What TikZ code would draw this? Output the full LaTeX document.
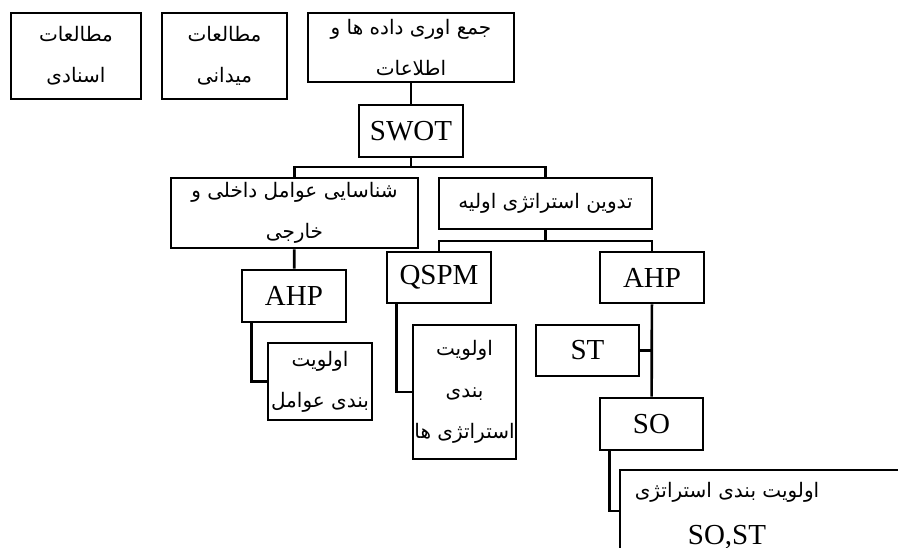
\documentclass[tikz,border=0pt]{standalone}
\usepackage{fontspec}
\setmainfont{Liberation Serif}
\newfontfamily\arabicfont[Script=Arabic]{DejaVu Sans}
\TeXXeTstate=1
\newcommand\fatext[1]{{\arabicfont\beginR#1\endR}}
\usetikzlibrary{calc}
\tikzset{box/.style={draw,line width=2pt,inner sep=0pt,align=center,
  font=\fontsize{15}{31}\selectfont},
tag/.style={box,minimum width=78pt,minimum height=39pt,font=\fontsize{21.75}{24}\selectfont},
link/.style={line width=2pt},
lab/.style={inner sep=0pt,font=\fontsize{15}{31}\selectfont}}

\begin{document}
\begin{tikzpicture}[x=0.75pt,y=-0.75pt]
\clip (0,0) rectangle (898,547);
\fill[white] (0,0) rectangle (898,547);
% sources and data collection
\node[box,minimum width=97.5pt,minimum height=64.5pt] (docs) at (76,56)
  {\fatext{مطالعات}\\\fatext{اسنادی}};
\node[box,minimum width=93.75pt,minimum height=64.5pt] (field) at (224.5,56)
  {\fatext{مطالعات}\\\fatext{میدانی}};
\node[box,minimum width=154.5pt,minimum height=51.75pt] (collect) at (411,47.5)
  {\fatext{جمع اوری داده ها و}\\\fatext{اطلاعات}};
\node[tag] (swot) at (411,131) {SWOT};
% second level
\node[box,minimum width=185.25pt,minimum height=52.5pt] (ident) at (294.5,213)
  {\fatext{شناسایی عوامل داخلی و}\\\fatext{خارجی}};
\node[box,minimum width=159.75pt,minimum height=38.25pt] (draft) at (545.5,203.5)
  {\fatext{تدوین استراتژی اولیه}};
% methods
\node[tag] (ahpA) at (294,296) {AHP};
\node[tag,minimum height=38.25pt] (qspm) at (439,277.5) {QSPM};
\node[tag,minimum height=38.25pt] (ahpB) at (652,277.5) {AHP};
\node[tag,minimum width=77.25pt,minimum height=38.25pt] (st) at (587.5,350.5) {ST};
\node[tag,minimum width=77.25pt] (so) at (651.5,424) {SO};
% rankings
\node[box,minimum width=78pt,minimum height=57.75pt] (rankF) at (320,381.5)
  {\fatext{اولویت}\\\fatext{بندی عوامل}};
\node[box,minimum width=77.25pt,minimum height=100.5pt] (rankS) at (464.5,392)
  {\fatext{اولویت}\\\fatext{بندی}\\\fatext{استراتژی ها}};
\node[box,minimum width=225pt,minimum height=61.5pt] (rankSOST) at (770,511) {};
\node[lab] (rankSOSTa) at (727,492) {\fatext{اولویت بندی استراتژی}};
\node[lab,font=\fontsize{21.75}{24}\selectfont] (rankSOSTb) at (727,537) {SO,ST};
% connectors
\coordinate (busA) at (411,167);
\coordinate (busB) at (545.5,241);
\draw[link] (collect) -- (swot);
\draw[link] (swot) -- (busA);
\draw[link] (ident.north) |- (busA) -| (draft.north);
\draw[link] (draft) -- (busB);
\draw[link] (qspm.north) |- (busB) -| (ahpB.north);
\draw[link] (ident) -- (ahpA);
\draw[link] ([xshift=8.25pt]ahpA.south west) |- (rankF.west);
\draw[link] ([xshift=8.25pt]qspm.south west) |- (rankS.west);
\draw[link] (ahpB) -- (so);
\draw[link] (st.east) -- (st.east -| ahpB.south);
\draw[link] ([xshift=8.25pt]so.south west) |- (rankSOST.west);
\end{tikzpicture}
\end{document}
